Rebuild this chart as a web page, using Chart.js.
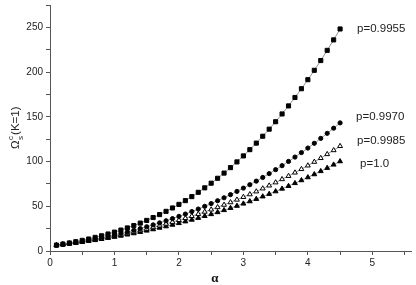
<!DOCTYPE html>
<html><head><meta charset="utf-8">
<script src="https://cdn.jsdelivr.net/npm/chart.js@4"></script>
<style>html,body{margin:0;padding:0;background:#fff}#wrap{width:416px;height:285px}</style>
</head><body><div id="wrap"><canvas id="c" width="416" height="285"></canvas></div>
<script>
const alpha = [0.1,0.2,0.3,0.4,0.5,0.6,0.7,0.8,0.9,1.0,1.1,1.2,1.3,1.4,1.5,1.6,1.7,1.8,1.9,2.0,2.1,2.2,2.3,2.4,2.5,2.6,2.7,2.8,2.9,3.0,3.1,3.2,3.3,3.4,3.5,3.6,3.7,3.8,3.9,4.0,4.1,4.2,4.3,4.4,4.5];
const p9955 = [6.6,7.8,9.0,10.4,11.9,13.4,15.2,17.0,19.0,21.1,23.4,25.8,28.4,31.2,34.2,37.4,40.7,44.3,48.1,52.1,56.3,60.8,65.6,70.6,75.8,81.3,87.1,93.2,99.6,106.3,113.3,120.6,128.3,136.2,144.5,153.2,162.2,171.6,181.4,191.5,202.0,212.9,224.3,236.0,248.2];
const p9970 = [6.4,7.4,8.5,9.6,10.8,12.1,13.4,14.8,16.3,17.9,19.6,21.3,23.1,25.1,27.1,29.2,31.4,33.8,36.2,38.7,41.3,44.1,46.9,49.9,53.0,56.2,59.5,63.0,66.6,70.3,74.1,78.1,82.2,86.5,90.9,95.4,100.1,105.0,110.0,115.1,120.4,125.9,131.5,137.3,143.2];
const p9985 = [6.4,7.3,8.3,9.3,10.4,11.6,12.8,14.0,15.4,16.8,18.2,19.7,21.3,23.0,24.7,26.5,28.4,30.4,32.4,34.5,36.7,39.0,41.3,43.8,46.3,48.9,51.6,54.4,57.3,60.3,63.3,66.5,69.8,73.1,76.6,80.2,83.8,87.6,91.5,95.5,99.6,103.8,108.2,112.6,117.2];
const p10 = [6.3,7.2,8.1,9.0,10.0,11.1,12.1,13.3,14.5,15.7,17.0,18.3,19.7,21.2,22.7,24.2,25.9,27.5,29.3,31.1,33.0,34.9,36.9,39.0,41.1,43.3,45.6,48.0,50.4,52.9,55.5,58.1,60.9,63.7,66.6,69.6,72.6,75.8,79.0,82.3,85.7,89.2,92.8,96.5,100.2];
const seriesLabels = ['p=0.9955','p=0.9970','p=0.9985','p=1.0'];
const labelY = [248.7, 150.4, 123, 97.6];
const xTicks = [0,1,2,3,4,5];
const yTicks = [0,50,100,150,200,250];

const pts = arr => alpha.map((a,i)=>({x:a,y:arr[i]}));
const common = {borderColor:'#666',borderWidth:0.7,showLine:true,pointBorderColor:'#000',pointBorderWidth:1};

const textPlugin = {
  id:'texts',
  afterDraw(chart){
    const ctx = chart.ctx, xs = chart.scales.x, ys = chart.scales.y;
    ctx.save();
    ctx.fillStyle = '#222';
    ctx.font = '11.5px "Liberation Sans", Arial, sans-serif';
    ctx.textBaseline = 'middle';
    ctx.textAlign = 'left';
    const offs = [17,16,17,20];
    seriesLabels.forEach((t,i)=>{
      ctx.fillText(t, xs.getPixelForValue(4.5)+offs[i], ys.getPixelForValue(labelY[i]));
    });
    ctx.font = 'bold 13px "Liberation Serif", "Times New Roman", serif';
    ctx.textAlign = 'center';
    ctx.fillStyle = '#111';
    ctx.fillText('α', 215, 279);
    const cy = (chart.chartArea.top + chart.chartArea.bottom)/2;
    ctx.translate(15, cy);
    ctx.rotate(-Math.PI/2);
    ctx.textAlign = 'left';
    ctx.textBaseline = 'alphabetic';
    ctx.fillStyle = '#222';
    ctx.font = '11.5px "Liberation Sans", Arial, sans-serif';
    const w1 = ctx.measureText('Ω').width;
    ctx.font = '8px "Liberation Sans", Arial, sans-serif';
    const w2 = ctx.measureText('c').width;
    ctx.font = '11.5px "Liberation Sans", Arial, sans-serif';
    const w3 = ctx.measureText('(K=1)').width;
    const total = w1 + w2 + 1 + w3;
    let x0 = -total/2;
    ctx.fillText('Ω', x0, 4);
    ctx.font = '8px "Liberation Sans", Arial, sans-serif';
    ctx.fillText('c', x0+w1+0.5, -2);
    ctx.fillText('s', x0+w1+0.5, 8);
    ctx.font = '11.5px "Liberation Sans", Arial, sans-serif';
    ctx.fillText('(K=1)', x0+w1+w2+1.5, 4);
    ctx.restore();
  }
};

new Chart(document.getElementById('c'), {
  type:'scatter',
  data:{datasets:[
    Object.assign({label:seriesLabels[0],data:pts(p9955),pointStyle:'rect',pointRadius:2.9,backgroundColor:'#000'},common),
    Object.assign({label:seriesLabels[1],data:pts(p9970),pointStyle:'circle',pointRadius:2.1,backgroundColor:'#000'},common),
    Object.assign({label:seriesLabels[2],data:pts(p9985),pointStyle:'triangle',pointRadius:2.8,backgroundColor:'#fff'},common),
    Object.assign({label:seriesLabels[3],data:pts(p10),pointStyle:'triangle',pointRadius:2.8,backgroundColor:'#000'},common)
  ]},
  options:{
    responsive:false, animation:false,
    layout:{padding:{left:0,right:0,top:3,bottom:14}},
    plugins:{legend:{display:false},tooltip:{enabled:false}},
    scales:{
      x:{type:'linear',min:0,max:5.6,
        afterBuildTicks(s){ const t=[]; for(let v=0; v<=5.5; v+=0.5) t.push({value:+v.toFixed(1)}); s.ticks=t; },
        ticks:{autoSkip:false,maxRotation:0,color:'#222',font:{family:'"Liberation Sans", Arial, sans-serif',size:10},padding:2,
          callback:(v)=> xTicks.includes(v) ? String(v) : ''},
        grid:{drawOnChartArea:false,drawTicks:true,tickLength:4,color:'#555'},
        border:{display:true,color:'#555',width:1}
      },
      y:{min:0,max:275,
        afterBuildTicks(s){ const t=[]; for(let v=0; v<=275; v+=25) t.push({value:v}); s.ticks=t; },
        afterFit(s){ s.width = 50; s.paddingTop = 0; },
        ticks:{autoSkip:false,color:'#222',font:{family:'"Liberation Sans", Arial, sans-serif',size:10},padding:3,
          callback:(v)=> yTicks.includes(v) ? String(v) : ''},
        grid:{drawOnChartArea:false,drawTicks:true,tickLength:4,color:'#555'},
        border:{display:true,color:'#555',width:1}
      }
    }
  },
  plugins:[textPlugin]
});
</script></body></html>
